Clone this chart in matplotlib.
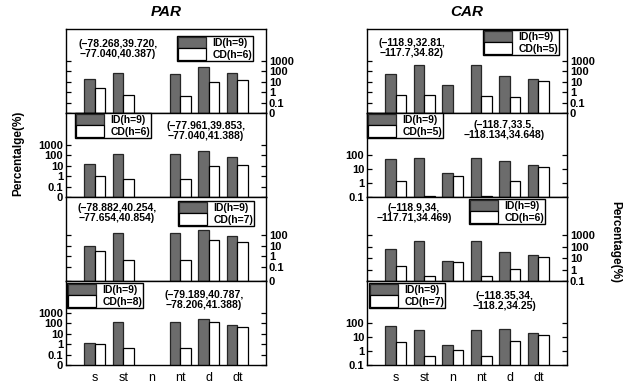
import numpy as np
import matplotlib
matplotlib.use("Agg")
from matplotlib import pyplot as plt
from matplotlib.patches import Patch

plt.rcParams['font.family'] = ['Liberation Sans', 'DejaVu Sans']
plt.rcParams['font.weight'] = 'bold'

# categories and bar values (percent), one row per panel, top to bottom
cats = ['s', 'st', 'n', 'nt', 'd', 'dt']

par_id = [[17, 70, 0, 60, 250, 70],
          [15, 130, 0, 130, 270, 75],
          [10, 160, 0, 140, 320, 80],
          [1.4, 150, 0, 150, 240, 78]]
par_cd = [[2.3, 0.53, 0, 0.46, 9, 14],
          [1.0, 0.5, 0, 0.5, 9, 13],
          [3.2, 0.44, 0, 0.44, 36, 24],
          [1.15, 0.46, 0, 0.46, 127, 44]]

car_id = [[57, 410, 5, 410, 35, 18],
          [56, 63, 5.5, 63, 36, 19],
          [62, 345, 5.2, 345, 38, 19],
          [61, 34, 2.8, 32, 36, 20]]
car_cd = [[0.5, 0.5, 0, 0.43, 0.32, 13],
          [1.5, 0.12, 3.2, 0.12, 1.3, 13],
          [2.1, 0.27, 4.5, 0.27, 1.07, 12.7],
          [4.5, 0.42, 1.1, 0.42, 4.8, 14]]

par_h = [6, 6, 7, 8]
car_h = [5, 5, 6, 7]

par_box = ['(\u221278.268,39.720,\n\u221277.040,40.387)',
           '(\u221277.961,39.853,\n\u221277.040,41.388)',
           '(\u221278.882,40.254,\n\u221277.654,40.854)',
           '(\u221279.189,40.787,\n\u221278.206,41.388)']
car_box = ['(\u2212118.9,32.81,\n\u2212117.7,34.82)',
           '(\u2212118.7,33.5,\n\u2212118.134,34.648)',
           '(\u2212118.9,34,\n\u2212117.71,34.469)',
           '(\u2212118.35,34,\n\u2212118.2,34.25)']

# y ranges and tick labels per panel
par_ylim = [(0.01, 1.2e6), (0.01, 1.2e6), (0.005, 3.5e5), (0.01, 1.2e6)]
par_ticks = [[0.01, 0.1, 1, 10, 100, 1000], [0.01, 0.1, 1, 10, 100, 1000],
             [0.005, 0.1, 1, 10, 100], [0.01, 0.1, 1, 10, 100, 1000]]
par_tlab = [['0', '0.1', '1', '10', '100', '1000'], ['0', '0.1', '1', '10', '100', '1000'],
            ['0', '0.1', '1', '10', '100'], ['0', '0.1', '1', '10', '100', '1000']]
car_ylim = [(0.01, 1.2e6), (0.1, 1e5), (0.1, 2.3e6), (0.1, 1e5)]
car_ticks = [[0.01, 0.1, 1, 10, 100, 1000], [0.1, 1, 10, 100],
             [0.1, 1, 10, 100, 1000], [0.1, 1, 10, 100]]
car_tlab = [['0', '0.1', '1', '10', '100', '1000'], ['0.1', '1', '10', '100'],
            ['0.1', '1', '10', '100', '1000'], ['0.1', '1', '10', '100']]

W, H = 626, 384
fig = plt.figure(figsize=(W / 100, H / 100), dpi=100)

# legend (top-left corner px) and coordinate text (centre px) per panel
par_leg = [(177, 36), (75, 113), (178, 201), (67, 283)]
car_leg = [(483, 30), (367, 113), (469, 199), (369, 283)]
par_txt = [(118, 49), (206, 131), (117, 213), (204, 300)]
car_txt = [(412, 48), (504, 130), (414, 213), (504, 301)]

x = np.arange(len(cats))
w = 0.37
gray = '#6c6c6c'


def draw_col(left, ids, cds, hs, boxes, ylims, ticks, tlabs, legs, txts):
    for r in range(4):
        top = 29 + 84 * r
        ax = fig.add_axes([left / W, 1 - (top + 84) / H, 200 / W, 84 / H])
        ax.set_yscale('log')
        ax.bar(x - w / 2, ids[r], w, color=gray, edgecolor='#262626', linewidth=0.9)
        ax.bar(x + w / 2, cds[r], w, color='white', edgecolor='black', linewidth=0.9)
        ax.set_xlim(-1, 6)
        ax.set_ylim(*ylims[r])
        ax.set_yticks(ticks[r], tlabs[r])
        ax.minorticks_off()
        side_right = (r % 2 == 0)
        ax.tick_params(axis='y', direction='in', length=3.5, width=0.9, left=True, right=True,
                       labelleft=not side_right, labelright=side_right, labelsize=8, pad=2)
        if r == 3:
            ax.set_xticks(x, cats)
            ax.tick_params(axis='x', length=0, labelsize=9, pad=5)
            for t in ax.get_xticklabels():
                t.set_fontweight('normal')
        else:
            ax.set_xticks([])
        for s in ax.spines.values():
            s.set_linewidth(1.0)
        handles = [Patch(facecolor=gray, edgecolor='#262626', linewidth=0.9),
                   Patch(facecolor='white', edgecolor='black', linewidth=0.9)]
        lx, ly = legs[r]
        ax.legend(handles, ['ID(h=9)', 'CD(h=%d)' % hs[r]], loc='upper left',
                  bbox_to_anchor=(lx / W, 1 - ly / H), bbox_transform=fig.transFigure,
                  fontsize=7.5, frameon=True, fancybox=False, edgecolor='black', framealpha=1,
                  borderpad=0.1, labelspacing=0.0, handlelength=2.7, handleheight=1.3,
                  handletextpad=0.6, borderaxespad=0)
        tx, ty = txts[r]
        fig.text(tx / W, 1 - ty / H, boxes[r], ha='center', va='center',
                 multialignment='center', fontsize=7.5, linespacing=1.1)


draw_col(66, par_id, par_cd, par_h, par_box, par_ylim, par_ticks, par_tlab, par_leg, par_txt)
draw_col(367, car_id, car_cd, car_h, car_box, car_ylim, car_ticks, car_tlab, car_leg, car_txt)

fig.text(166 / W, 1 - 12 / H, 'PAR', ha='center', va='center', fontsize=11, style='italic')
fig.text(467 / W, 1 - 12 / H, 'CAR', ha='center', va='center', fontsize=11, style='italic')
fig.text(18 / W, 1 - 153 / H, 'Percentalge(%)', ha='center', va='center', rotation=90, fontsize=8.5)
fig.text(615 / W, 1 - 242 / H, 'Percentage(%)', ha='center', va='center', rotation=270, fontsize=8.5)

fig.savefig('out.png', dpi=100)
